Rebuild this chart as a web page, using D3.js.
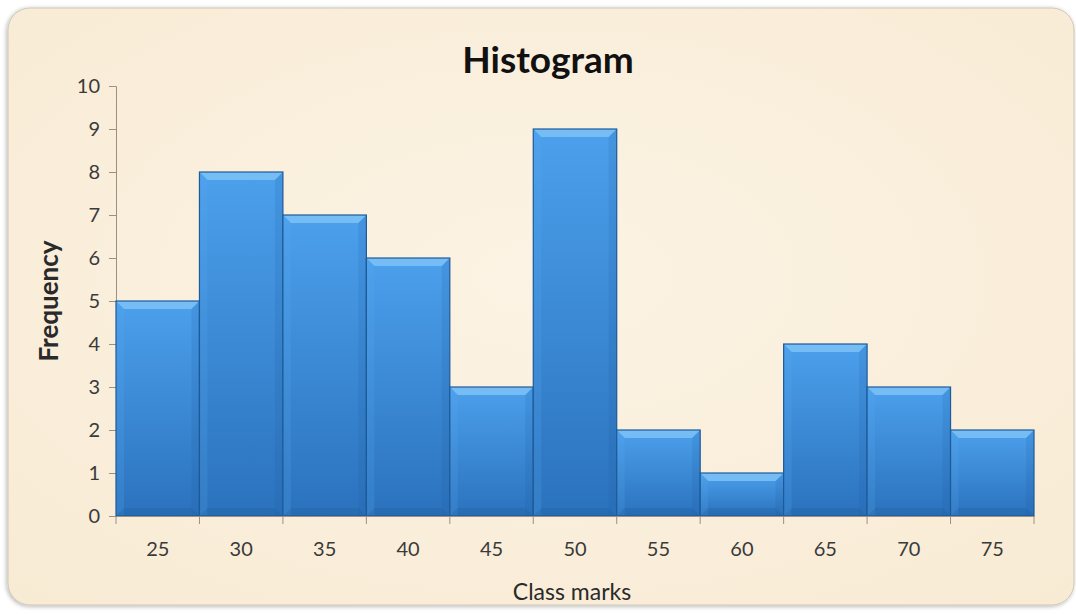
<!DOCTYPE html>
<html><head><meta charset="utf-8">
<script src="https://cdn.jsdelivr.net/npm/d3@7"></script>
<style>html,body{margin:0;padding:0;background:#fff;}svg{display:block;}</style>
</head><body>
<script>
const classMarks = [25,30,35,40,45,50,55,60,65,70,75];
const frequencies = [5,8,7,6,3,9,2,1,4,3,2];
const yTicks = [0,1,2,3,4,5,6,7,8,9,10];

const W = 1076, H = 614;
const m = {left:116, right:42, top:86, bottom:98};
const FONT = "Lato, 'Open Sans', sans-serif";
const svg = d3.select("body").append("svg").attr("width",W).attr("height",H);
const defs = svg.append("defs");

const bg = defs.append("radialGradient").attr("id","bg").attr("cx","50%").attr("cy","45%").attr("r","75%");
bg.append("stop").attr("offset","0%").attr("stop-color","#fcf3e4");
bg.append("stop").attr("offset","100%").attr("stop-color","#f8ebd4");

const bar = defs.append("linearGradient").attr("id","bar").attr("x1",0).attr("x2",0).attr("y1",0).attr("y2",1);
bar.append("stop").attr("offset","0%").attr("stop-color","#4ca0ec");
bar.append("stop").attr("offset","100%").attr("stop-color","#2b72bd");

const fl = defs.append("filter").attr("id","sh").attr("x","-5%").attr("y","-5%").attr("width","110%").attr("height","110%");
fl.append("feDropShadow").attr("dx",-1).attr("dy",1).attr("stdDeviation",2).attr("flood-color","#000").attr("flood-opacity",0.3);

svg.append("rect").attr("x",8).attr("y",8).attr("width",1066).attr("height",597)
  .attr("rx",22).attr("fill","url(#bg)").attr("stroke","#cfc6b6").attr("stroke-width",1).attr("filter","url(#sh)");

const x = d3.scaleBand().domain(classMarks).range([m.left, W-m.right]).padding(0);
const y = d3.scaleLinear().domain([0,10]).range([H-m.bottom, m.top]);

// y axis
const yAxis = svg.append("g").attr("transform",`translate(${m.left},0)`)
  .call(d3.axisLeft(y).tickValues(yTicks).tickSize(7).tickPadding(9));
yAxis.select(".domain").attr("stroke","#9a9184");
yAxis.selectAll(".tick line").attr("stroke","#9a9184");
yAxis.selectAll("text").attr("font-family",FONT).attr("font-size",20).attr("fill","#3a3a3a");

// bars
const g = svg.append("g");
const bw = x.bandwidth();
const bev = 8;
classMarks.forEach((c,i)=>{
  const x0 = x(c), x1 = x0 + bw, yt = y(frequencies[i]), yb = y(0);
  g.append("rect").attr("x",x0).attr("y",yt).attr("width",bw).attr("height",yb-yt)
    .attr("fill","url(#bar)");
  g.append("path").attr("d",`M${x0},${yt}L${x1},${yt}L${x1-bev},${yt+bev}L${x0+bev},${yt+bev}Z`)
    .attr("fill","#7cc2f6").attr("opacity",0.85);
  g.append("path").attr("d",`M${x0},${yt}L${x0+bev},${yt+bev}L${x0+bev},${yb}L${x0},${yb}Z`)
    .attr("fill","#5aaaf0").attr("opacity",0.2);
  g.append("path").attr("d",`M${x1},${yt}L${x1-bev},${yt+bev}L${x1-bev},${yb}L${x1},${yb}Z`)
    .attr("fill","#1d5a98").attr("opacity",0.15);
  g.append("path").attr("d",`M${x0},${yb}L${x0+bev},${yb-bev}L${x1-bev},${yb-bev}L${x1},${yb}Z`)
    .attr("fill","#1d5a98").attr("opacity",0.25);
  g.append("rect").attr("x",x0).attr("y",yt).attr("width",bw).attr("height",yb-yt)
    .attr("fill","none").attr("stroke","#1d5a98").attr("stroke-width",1.2);
});

// x axis
const xAxis = svg.append("g").attr("transform",`translate(0,${H-m.bottom})`)
  .call(d3.axisBottom(x).tickSize(0).tickPadding(26));
xAxis.select(".domain").attr("stroke","#9a9184");
xAxis.selectAll("text").attr("font-family",FONT).attr("font-size",20).attr("fill","#3a3a3a");
const bounds = classMarks.map(c=>x(c)).concat([x(classMarks[classMarks.length-1])+bw]);
svg.append("g").selectAll("line").data(bounds).join("line")
  .attr("x1",d=>d).attr("x2",d=>d).attr("y1",H-m.bottom).attr("y2",H-m.bottom+8)
  .attr("stroke","#9a9184");

// titles
svg.append("text").attr("x",548).attr("y",73).attr("text-anchor","middle")
  .attr("font-family",FONT).attr("font-weight","bold").attr("font-size",37).attr("fill","#111")
  .text("Histogram");
svg.append("text").attr("x",572).attr("y",600).attr("text-anchor","middle")
  .attr("font-family",FONT).attr("font-size",23).attr("fill","#2a2a2a")
  .text("Class marks");
svg.append("text").attr("transform",`translate(58,${(m.top+H-m.bottom)/2}) rotate(-90)`).attr("text-anchor","middle")
  .attr("font-family",FONT).attr("font-weight","bold").attr("font-size",26).attr("fill","#2a2a2a")
  .text("Frequency");
</script>
</body></html>
